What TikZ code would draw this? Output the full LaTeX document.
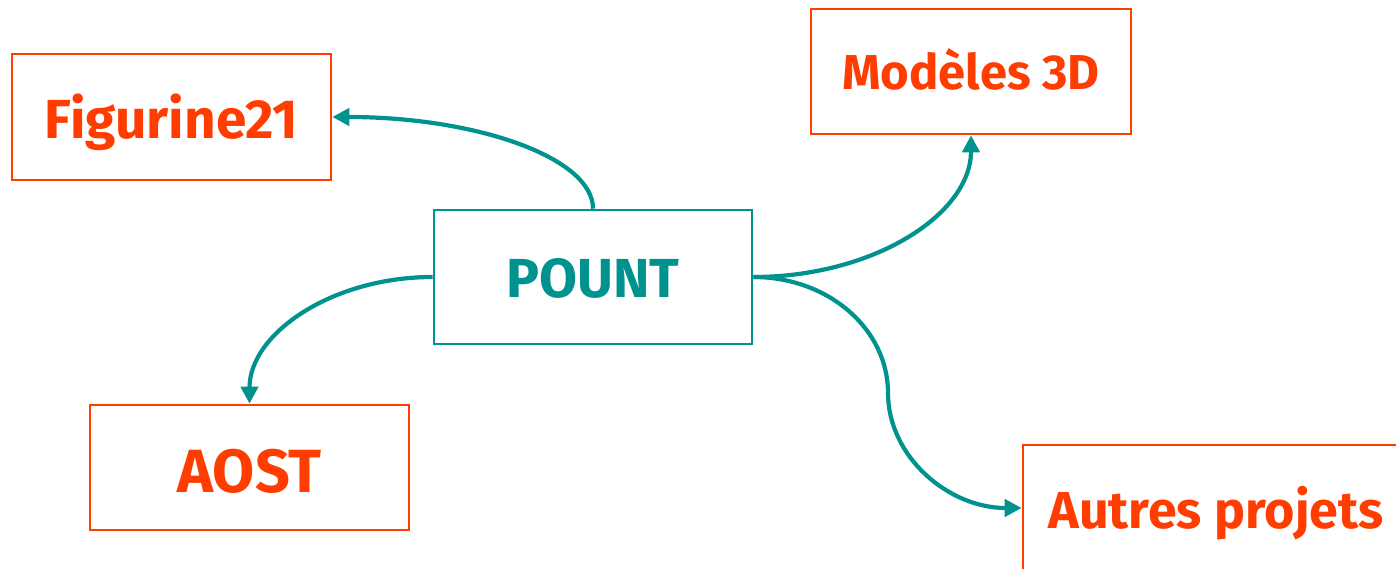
\documentclass[tikz,border=0pt]{standalone}
\usepackage{fontspec}
\setmainfont{Fira Sans}
\usetikzlibrary{arrows.meta}
\definecolor{orng}{HTML}{FF3D00}
\definecolor{teal2}{HTML}{00928E}
\tikzset{
  leaf/.style={draw=orng, line width=2.6pt, text=orng, inner sep=0pt, text depth=0pt},
  hub/.style={draw=teal2, line width=2.6pt, text=teal2, inner sep=0pt, text depth=0pt},
  link/.style={draw=teal2, line width=4.2pt, -{Triangle[length=17pt,width=17pt]}},
}
\begin{document}
\begin{tikzpicture}[x=1pt,y=1pt]
\useasboundingbox (0,0) rectangle (1396,568);
\clip (0,0) rectangle (1396,568);
\fill[white] (0,0) rectangle (1396,568);
\node[leaf, minimum width=319pt, minimum height=126pt, text height=43pt, font=\bfseries\fontsize{55}{58}\selectfont] (fig) at (171.5,451) {Figurine21};
\node[leaf, minimum width=320pt, minimum height=125pt, text height=37pt, font=\bfseries\fontsize{49}{52}\selectfont] (mod) at (971,496.5) {Modèles 3D};
\node[hub, minimum width=318pt, minimum height=134pt, text height=42pt, font=\bfseries\fontsize{55}{58}\selectfont] (pount) at (593,291) {POUNT};
\node[leaf, minimum width=319pt, minimum height=125pt, text height=49pt, font=\bfseries\fontsize{61}{64}\selectfont] (aost) at (249.5,100.5) {AOST};
\node[leaf, minimum width=386pt, minimum height=126pt, text height=41pt, font=\bfseries\fontsize{52}{55}\selectfont] (aut) at (1216,60) {Autres projets};
\coordinate (mid) at (888,175);
\draw[link] (pount.north) .. controls +(0,51) and +(144,0) .. (fig.east);
\draw[link] (pount.east) .. controls +(120,0) and +(0,-79) .. (mod.south);
\draw[link] (pount.west) .. controls +(-101,0) and +(0,70) .. (aost.north);
\draw[link] (pount.east) .. controls +(75,0) and +(0,64) .. (mid) .. controls +(0,-63) and +(-74,0) .. (aut.west);
\end{tikzpicture}
\end{document}
